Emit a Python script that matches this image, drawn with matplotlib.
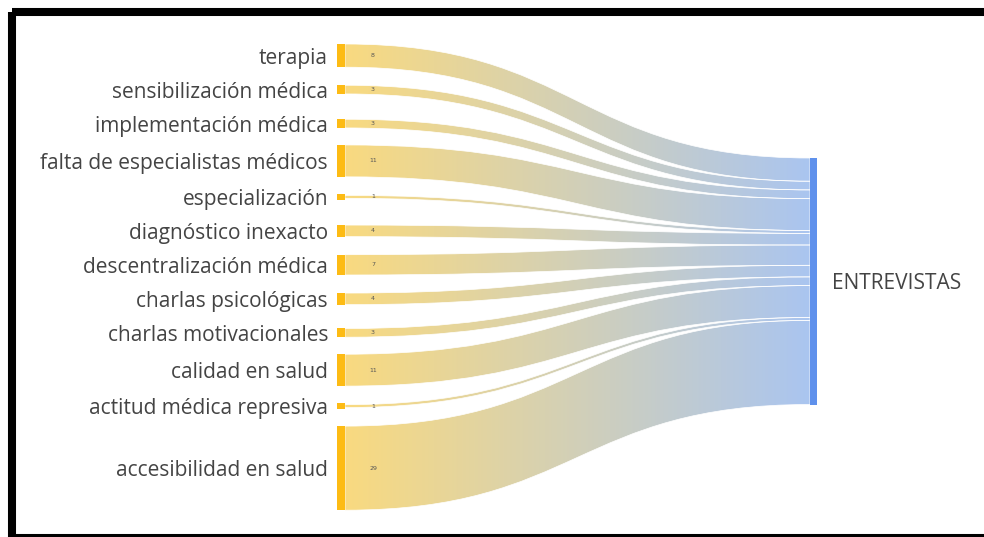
import matplotlib
matplotlib.use("Agg")
import matplotlib.pyplot as plt
from matplotlib.path import Path
from matplotlib.patches import PathPatch, Rectangle
import numpy as np

# datos del diagrama (origen -> ENTREVISTAS)
categorias = ["terapia", "sensibilización médica", "implementación médica",
              "falta de especialistas médicos", "especialización",
              "diagnóstico inexacto", "descentralización médica",
              "charlas psicológicas", "charlas motivacionales",
              "calidad en salud", "actitud médica represiva",
              "accesibilidad en salud"]
valores = [8, 3, 3, 11, 1, 4, 7, 4, 3, 11, 1, 29]
destino = "ENTREVISTAS"

W, H = 984, 537
fig = plt.figure(figsize=(W / 100, H / 100), dpi=100)
ax = fig.add_axes([0, 0, 1, 1])
ax.set_xlim(0, W)
ax.set_ylim(H, 0)
ax.axis("off")

# marco negro (solo arriba, izquierda y abajo visibles)
ax.add_patch(Rectangle((12, 12), W + 20, 526, fill=False, ec="black", lw=5.8, zorder=10))

# layout
escala = 2.9
x_izq, x_der = 337, 810
ancho_nodo = 8
h_min = 6
alturas = [max(v * escala, h_min) for v in valores]
centros = []
c = 44 + alturas[0] / 2
for i, h in enumerate(alturas):
    if i > 0:
        c += max(alturas[i - 1] / 2 + h / 2 + 17, 34)
    centros.append(c)
total = sum(valores) * escala
top_der = 158

color_izq = np.array([249, 218, 128]) / 255
color_der = np.array([170, 197, 240]) / 255
grad = np.linspace(0, 1, 256)
img = (color_izq[None, :] * (1 - grad[:, None]) + color_der[None, :] * grad[:, None])[None, :, :]

x0 = x_izq + ancho_nodo
x1 = x_der
xm = (x0 + x1) / 2
y_acum = top_der
for i, v in enumerate(valores):
    hl = v * escala
    a0, b0 = centros[i] - hl / 2, centros[i] + hl / 2
    a1, b1 = y_acum, y_acum + hl
    y_acum += hl
    verts = [(x0, a0), (xm, a0), (xm, a1), (x1, a1),
             (x1, b1), (xm, b1), (xm, b0), (x0, b0), (x0, a0)]
    codes = [Path.MOVETO, Path.CURVE4, Path.CURVE4, Path.CURVE4,
             Path.LINETO, Path.CURVE4, Path.CURVE4, Path.CURVE4, Path.CLOSEPOLY]
    patch = PathPatch(Path(verts, codes), fc="none", ec="white", lw=0.5, zorder=3)
    ax.add_patch(patch)
    im = ax.imshow(img, extent=[x0, x1, 520, 30], aspect="auto", zorder=2)
    im.set_clip_path(patch)
    ax.text(x0 + 28, centros[i], str(v), fontsize=4.5, color="#555555",
            ha="center", va="center", zorder=4)

# nodos
for i, h in enumerate(alturas):
    ax.add_patch(Rectangle((x_izq, centros[i] - h / 2), ancho_nodo, h,
                           fc="#FDBB14", ec="none", zorder=5))
    ax.text(x_izq - 9, centros[i], categorias[i], fontsize=15, color="#444444",
            ha="right", va="center_baseline", family="Open Sans", zorder=5)
ax.add_patch(Rectangle((x_der, top_der), 7, total, fc="#5F91EC", ec="none", zorder=5))
ax.text(832, top_der + total / 2, destino, fontsize=15, color="#444444",
        ha="left", va="center_baseline", family="Open Sans", zorder=5)

fig.savefig("out.png", dpi=100)
